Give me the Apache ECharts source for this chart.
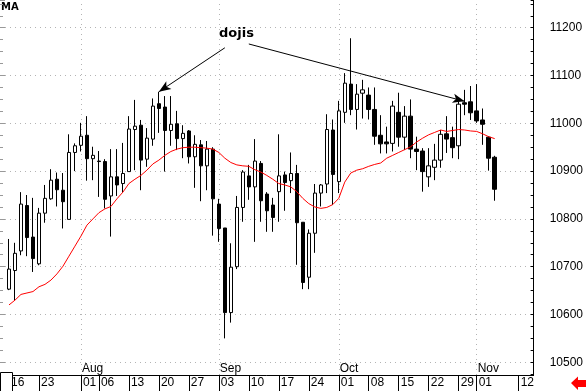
<!DOCTYPE html>
<html><head><meta charset="utf-8">
<script src="https://cdn.jsdelivr.net/npm/echarts@6/dist/echarts.min.js"></script>
<style>html,body{margin:0;padding:0;background:#fff}#c{width:586px;height:391px}</style>
</head><body><div id="c"></div><script>
// trading-day categories (one padding day before, six after the candles)
const categories = ['07-13',
 '07-16','07-17','07-18','07-19','07-20','07-23','07-24','07-25','07-26','07-27','07-30','07-31',
 '08-01','08-02','08-03','08-06','08-07','08-08','08-09','08-10','08-13','08-14','08-15','08-16','08-17',
 '08-20','08-21','08-22','08-23','08-24','08-27','08-28','08-29','08-30','08-31',
 '09-03','09-04','09-05','09-06','09-07','09-10','09-11','09-12','09-13','09-14',
 '09-17','09-18','09-19','09-20','09-21','09-24','09-25','09-26','09-27','09-28',
 '10-01','10-02','10-03','10-04','10-05','10-08','10-09','10-10','10-11','10-12',
 '10-15','10-16','10-17','10-18','10-19','10-22','10-23','10-24','10-25','10-26','10-29','10-30','10-31',
 '11-01','11-02','11-05','11-06',
 '11-07','11-08','11-09','11-12','11-13','11-14'];
const candleDates = categories.slice(1, 83);
const opens  = [10653,10692,10733,10828,10762,10706,10812,10842,10883,10860,10799,10939,10954,10975,10926,10921,10920,10848,10888,10874,10899,10987,10996,10925,10967,11041,11034,10985,10999,10968,10984,10930,10955,10911,10946,10831,10781,10604,10700,10824,10890,10867,10916,10852,10829,10857,10892,10880,10895,10793,10678,10770,10854,10873,10986,10878,11023,11082,11029,11063,11059,11029,10975,10961,10958,11023,10971,11015,10946,10942,10888,10908,10923,10978,10970,10953,11043,11045,11026,11007,10971,10929];
const closes = [10695,10728,10831,10761,10717,10812,10843,10881,10861,10836,10939,10953,10973,10926,10933,10920,10841,10888,10871,10895,10988,10994,10923,10969,11036,11031,10985,10998,10968,10979,10930,10956,10911,10946,10842,10780,10604,10699,10824,10898,10867,10921,10838,10817,10803,10890,10876,10895,10792,10667,10770,10854,10871,10987,10893,11026,11084,11029,11061,11070,11029,10973,10957,10957,11036,10971,11015,10946,10941,10899,10911,10923,10977,10967,10949,11040,11040,11022,11005,10998,10927,10862];
const lows   = [10651,10629,10724,10722,10689,10703,10792,10840,10826,10780,10799,10900,10941,10880,10881,10846,10822,10763,10848,10855,10899,10902,10860,10909,10953,10980,10899,10953,10944,10927,10916,10865,10837,10860,10765,10752,10550,10583,10695,10794,10840,10752,10794,10773,10773,10794,10817,10854,10704,10653,10653,10729,10826,10854,10829,10854,11001,11017,10987,11010,11008,10955,10937,10937,10941,10951,10944,10927,10902,10857,10867,10881,10907,10938,10927,10925,11017,11007,11001,10955,10901,10838];
const highs  = [10758,10750,10856,10850,10844,10823,10871,10904,10897,10896,10977,10958,11001,11015,10951,10942,10925,10946,10946,10959,11015,11049,11007,10990,11052,11066,11057,11057,11026,10996,10986,10975,10965,10963,10950,10842,10781,10749,10848,10902,10913,10967,10921,10856,10844,10977,10899,10939,10913,10793,10778,10873,10873,11019,11008,11047,11105,11178,11082,11091,11075,11075,11017,10993,11047,11064,11036,11050,10972,10948,10948,10957,10986,11015,10993,11045,11070,11078,11082,11031,10973,10932];
const ma     = [10620,10630,10642,10645,10648,10658,10663,10672,10685,10701,10722,10743,10764,10787,10800,10813,10821,10826,10842,10856,10874,10883,10891,10902,10915,10923,10933,10941,10946,10949,10950,10950,10949,10948,10946,10939,10927,10918,10913,10911,10910,10903,10898,10891,10883,10874,10871,10867,10857,10843,10832,10825,10822,10824,10830,10843,10877,10896,10902,10905,10910,10914,10917,10927,10933,10939,10945,10951,10961,10969,10976,10981,10986,10983,10985,10987,10986,10984,10983,10978,10972,10968];
const dayLabels = ['07-16','07-23','08-01','08-06','08-13','08-20','08-27','09-03','09-10','09-17','09-24','10-01','10-08','10-15','10-22','10-29','11-01','11-12'];
const monthStarts = ['08-01','09-03','10-01','11-01'];
const monthNames = ['Aug','Sep','Oct','Nov'];
const dojiNotes = [
  {from: ['09-04', 11158], to: ['08-20', 11066]},
  {from: ['09-10', 11166], to: ['10-30', 11046]}
];

const chart = echarts.init(document.getElementById('c'), null, {renderer: 'canvas'});
const font = 'Liberation Sans, Arial, sans-serif';
const yMin = 10473.4, yMax = 11258;

chart.setOption({
  animation: false,
  backgroundColor: '#fff',
  grid: {left: 0, right: 52, top: 0, bottom: 16, containLabel: false},
  xAxis: [{
    type: 'category', data: categories, position: 'bottom', boundaryGap: true,
    axisLine: {show: true, lineStyle: {color: '#000', width: 1}},
    axisTick: {show: true, alignWithLabel: true, length: 16, interval: (i, v) => dayLabels.includes(v), lineStyle: {color: '#000'}},
    axisLabel: {show: true, interval: (i, v) => dayLabels.includes(v), formatter: v => v.slice(3),
      align: 'left', padding: [0, 0, 0, 2], margin: 2, color: '#000', fontSize: 12, fontFamily: font},
    splitLine: {show: false}
  }, {
    type: 'category', data: categories, position: 'bottom', boundaryGap: true,
    axisLine: {show: false}, axisTick: {show: false}, splitLine: {show: false},
    axisLabel: {show: true, inside: true, interval: (i, v) => monthStarts.includes(v),
      formatter: v => monthNames[monthStarts.indexOf(v)], align: 'left', padding: [0, 0, 0, 1], margin: 0,
      color: '#000', fontSize: 12, fontFamily: font}
  }],
  yAxis: [{
    type: 'value', position: 'right', min: yMin, max: yMax, splitNumber: 8, scale: true,
    axisLine: {show: true, lineStyle: {color: '#000', width: 1}},
    axisTick: {show: true, inside: true, length: 3, lineStyle: {color: '#000'}},
    minorTick: {show: true, splitNumber: 4, length: 3, lineStyle: {color: '#000'}},
    axisLabel: {show: true, showMinLabel: false, showMaxLabel: false, margin: 16, color: '#000', fontSize: 12, fontFamily: font,
      formatter: v => String(Math.round(v))},
    splitLine: {show: true, showMinLine: false, showMaxLine: false, lineStyle: {color: '#b4b4b4', type: [1, 4], width: 1}}
  }, {
    type: 'value', position: 'left', min: yMin, max: yMax, splitNumber: 8, scale: true,
    axisLine: {show: false},
    axisTick: {show: true, inside: true, length: 5, lineStyle: {color: '#999'}},
    minorTick: {show: true, splitNumber: 4, length: 3, lineStyle: {color: '#999'}},
    axisLabel: {show: false}, splitLine: {show: false}
  }],
  series: [{
    type: 'candlestick', name: 'price', xAxisIndex: 0, yAxisIndex: 0,
    data: candleDates.map((d, i) => [d, opens[i], closes[i], lows[i], highs[i]]),
    encode: {x: 0, y: [1, 2, 3, 4]},
    barWidth: 4,
    itemStyle: {color: '#fff', color0: '#000', borderColor: '#000', borderColor0: '#000', borderWidth: 1},
    markLine: {
      z: 1, silent: true, symbol: ['none', 'none'], label: {show: false},
      lineStyle: {color: '#b4b4b4', type: [1, 4], width: 1},
      emphasis: {disabled: true},
      data: monthStarts.map(d => ({xAxis: d}))
    }
  }, {
    type: 'line', name: 'MA', xAxisIndex: 0, yAxisIndex: 0, z: 3,
    data: candleDates.map((d, i) => [d, ma[i]]),
    symbol: 'none', lineStyle: {color: '#ff0000', width: 1},
    markLine: {
      z: 5, silent: true, symbol: ['none', 'arrow'], symbolSize: [7, 12], label: {show: false},
      lineStyle: {color: '#000', type: 'solid', width: 1},
      emphasis: {disabled: true},
      data: dojiNotes.map(n => [{coord: n.from}, {coord: n.to}])
    }
  }],
  graphic: [
    {type: 'text', left: 1, top: 2, style: {text: 'MA', font: 'bold 10px DejaVu Sans, sans-serif', fill: '#000'}},
    {type: 'text', left: 219, top: 27, style: {text: 'dojis', font: 'bold 13px DejaVu Sans, sans-serif', fill: '#000'}},
    {type: 'rect', shape: {x: 0.5, y: 372.5, width: 12, height: 19}, style: {fill: '#fff', stroke: '#000', lineWidth: 1}, z: 100},
    {type: 'polygon', shape: {points: [[571, 383], [578, 376.5], [578, 380], [586, 380], [586, 387], [578, 387], [578, 390]]}, style: {fill: '#ff0000'}, z: 100}
  ]
});
</script></body></html>
